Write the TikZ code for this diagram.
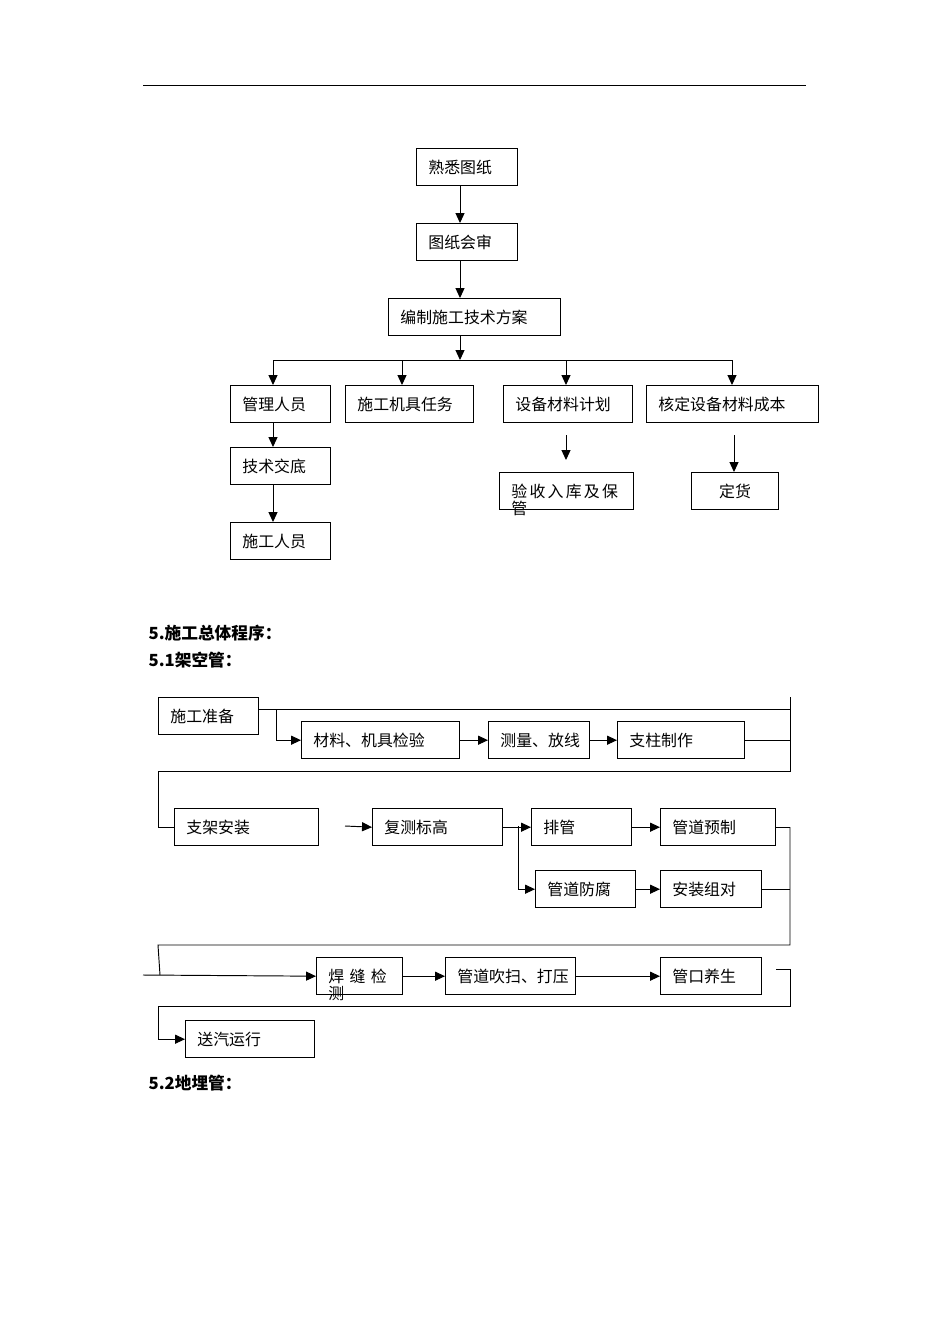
\documentclass[tikz,border=0pt]{standalone}
\usepackage{fontspec}
\setmainfont{Noto Sans CJK SC}
\usetikzlibrary{arrows.meta}

\begin{document}
\begin{tikzpicture}[
  x=0.221mm, y=-0.221mm,
  font=\fontsize{10}{12}\selectfont,
  box/.style={draw, line width=0.8pt, anchor=north west, minimum height=8.2mm,
              inner xsep=2.6mm, inner ysep=0pt, align=left},
  head/.style={anchor=west, font=\fontsize{10.5}{12}\selectfont\bfseries},
  link/.style={line width=0.6pt},
  arr/.style={link, -{Triangle[length=2.2mm, width=2mm]}},
]
\useasboundingbox (0,0) rectangle (950,1344);

% page rule
\draw[link] (143,85) -- (806,85);

% Preparation chart
\node[box, text width=17.1mm] (drawings) at (416,148) {熟悉图纸};
\node[box, text width=17.1mm] (review)   at (416,223) {图纸会审};
\node[box, text width=32.8mm] (plan)     at (388,298) {编制施工技术方案};

\node[box, text width=16.9mm] (staff)    at (230,385) {管理人员};
\node[box, text width=23.1mm] (tools)    at (345,385) {施工机具任务};
\node[box, text width=23.3mm] (matplan)  at (503,385) {设备材料计划};
\node[box, text width=32.8mm] (cost)     at (646,385) {核定设备材料成本};

\node[box, text width=16.9mm] (brief)    at (230,447) {技术交底};
\node[box, text width=16.9mm] (workers)  at (230,522) {施工人员};
\node[box, text width=24.4mm] (store)    at (499,472)
  {\addfontfeature{LetterSpace=14}\rlap{\smash{\raisebox{-3.8mm}{管}}}验收入库及保};
\node[box, text width=14.0mm, align=center] (order) at (691,472) {定货};

\coordinate (trunk)     at (460,360);
\coordinate (bus_l)     at (273,360);
\coordinate (bus_r)     at (732,360);
\coordinate (tap_tools) at (402,360);
\coordinate (tap_mat)   at (566,360);
\coordinate (mat_a)     at (566,435);
\coordinate (mat_b)     at (566,460);
\coordinate (cost_a)    at (734,435);

\draw[arr] (drawings.south -| trunk) -- (review.north -| trunk);
\draw[arr] (review.south -| trunk)   -- (plan.north -| trunk);
\draw[arr] (plan.south -| trunk)     -- (trunk);
\draw[link] (bus_l) -- (bus_r);
\draw[arr] (bus_l)     -- (staff.north -| bus_l);
\draw[arr] (tap_tools) -- (tools.north -| tap_tools);
\draw[arr] (tap_mat)   -- (matplan.north -| tap_mat);
\draw[arr] (bus_r)     -- (cost.north -| bus_r);
\draw[arr] (staff.south -| bus_l) -- (brief.north -| bus_l);
\draw[arr] (brief.south -| bus_l) -- (workers.north -| bus_l);
\draw[arr] (mat_a)  -- (mat_b);
\draw[arr] (cost_a) -- (order.north -| cost_a);

% Section headings
\node[head] (sec5)  at (143,633)  {5.施工总体程序：};
\node[head] (sec51) at (143,660)  {5.1架空管：};
\node[head] (sec52) at (143,1083) {5.2地埋管：};

% Overhead pipe sequence, row 1
\node[box, text width=16.9mm] (prep)     at (158,697) {施工准备};
\node[box, text width=29.7mm] (check)    at (301,721) {材料、机具检验};
\node[box, text width=17.1mm] (survey)   at (488,721) {测量、放线};
\node[box, text width=22.9mm] (column)   at (617,721) {支柱制作};

% row 2
\node[box, text width=26.6mm] (bracket)  at (174,808) {支架安装};
\node[box, text width=23.5mm] (recheck)  at (372,808) {复测标高};
\node[box, text width=16.9mm] (layout)   at (531,808) {排管};
\node[box, text width=20.2mm] (prefab)   at (660,808) {管道预制};
\node[box, text width=16.9mm] (anticorr) at (535,870) {管道防腐};
\node[box, text width=17.1mm] (assemble) at (660,870) {安装组对};

% row 3
\node[box, text width=13.8mm] (weld)     at (316,957)
  {\rlap{\smash{\raisebox{-3.8mm}{测}}}焊\ 缝\ 检};
\node[box, text width=23.5mm] (purge)    at (445,957) {管道吹扫、打压};
\node[box, text width=17.1mm] (seal)     at (660,957) {管口养生};

% row 4
\node[box, text width=23.3mm] (steam)    at (185,1020) {送汽运行};

% return paths
\coordinate (r1_top)  at (790,697);
\coordinate (r1_mid)  at (790,709);
\coordinate (r1_bot)  at (790,771);
\coordinate (l1_top)  at (158,771);
\coordinate (tap1)    at (276,709);
\coordinate (free1)   at (345,826);
\coordinate (tap2)    at (518,826);
\coordinate (r2_top)  at (790,826);
\coordinate (r2_bot)  at (790,945);
\coordinate (l2_top)  at (158,945);
\coordinate (l2_bot)  at (160,975);
\coordinate (row3_in) at (143,975);
\coordinate (r3_in)   at (776,969);
\coordinate (r3_top)  at (790,969);
\coordinate (r3_bot)  at (790,1006);
\coordinate (l3_top)  at (158,1006);

\draw[link] (prep.east |- r1_mid) -- (r1_mid);
\draw[link] (r1_top) -- (r1_bot) -- (l1_top) -- (l1_top |- bracket.west) -- (bracket.west);
\draw[arr] (tap1) |- (check.west);
\draw[arr] (check)  -- (survey);
\draw[arr] (survey) -- (column);
\draw[link] (column.east) -- (column.east -| r1_top);

\draw[arr] (free1) -- (recheck.west);
\draw[arr] (recheck) -- (layout);
\draw[arr] (tap2) |- (anticorr.west);
\draw[arr] (layout) -- (prefab);
\draw[arr] (anticorr) -- (assemble);
\draw[link] (prefab.east) -- (prefab.east -| r2_top);
\draw[link] (assemble.east) -- (assemble.east -| r2_top);
\draw[link] (prefab.east -| r2_top) -- (r2_bot) -- (l2_top) -- (l2_bot);

\draw[arr] (row3_in) -- (weld.west);
\draw[arr] (weld) -- (purge);
\draw[arr] (purge) -- (seal);
\draw[link] (r3_in) -- (r3_top) -- (r3_bot) -- (l3_top) -- (l3_top |- steam.west);
\draw[arr] (l3_top |- steam.west) -- (steam.west);
\end{tikzpicture}
\end{document}
